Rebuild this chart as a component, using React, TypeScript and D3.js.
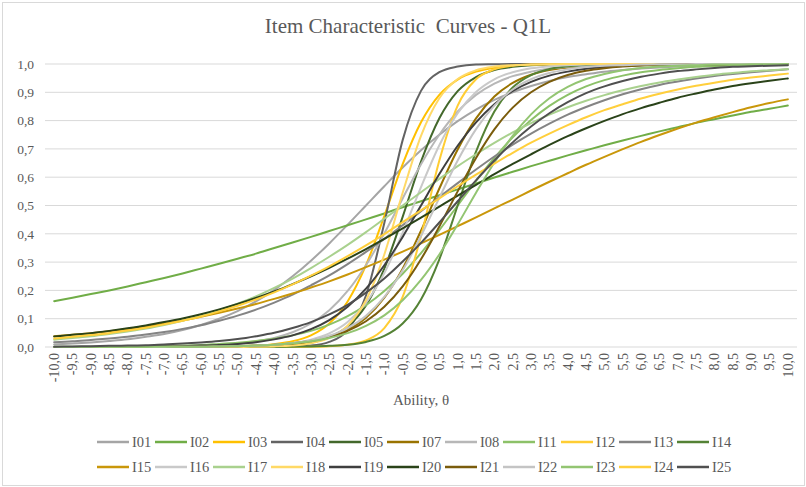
import React from 'react';
import * as d3 from 'd3';

// Ability categories (x axis)
const thetaLabels = [
  '-10,0', '-9,5', '-9,0', '-8,5', '-8,0', '-7,5', '-7,0', '-6,5', '-6,0', '-5,5',
  '-5,0', '-4,5', '-4,0', '-3,5', '-3,0', '-2,5', '-2,0', '-1,5', '-1,0', '-0,5',
  '0,0', '0,5', '1,0', '1,5', '2,0', '2,5', '3,0', '3,5', '4,0', '4,5',
  '5,0', '5,5', '6,0', '6,5', '7,0', '7,5', '8,0', '8,5', '9,0', '9,5', '10,0',
];

const yTicks = [0, 0.1, 0.2, 0.3, 0.4, 0.5, 0.6, 0.7, 0.8, 0.9, 1.0];
const yTickLabels = ['0,0', '0,1', '0,2', '0,3', '0,4', '0,5', '0,6', '0,7', '0,8', '0,9', '1,0'];

// probability of a correct answer per item
const I01 = [0.009, 0.012, 0.016, 0.021, 0.027, 0.036, 0.046, 0.060, 0.078, 0.100, 0.127, 0.161, 0.202, 0.250, 0.305, 0.366, 0.432, 0.500, 0.568, 0.634, 0.695, 0.750, 0.798, 0.839, 0.873, 0.900, 0.922, 0.940, 0.954, 0.964, 0.973, 0.979, 0.984, 0.988, 0.991, 0.993, 0.995, 0.996, 0.997, 0.998, 0.998];
const I02 = [0.162, 0.174, 0.187, 0.200, 0.214, 0.229, 0.244, 0.260, 0.277, 0.294, 0.312, 0.330, 0.350, 0.369, 0.389, 0.410, 0.430, 0.451, 0.472, 0.494, 0.515, 0.536, 0.557, 0.578, 0.599, 0.619, 0.639, 0.658, 0.677, 0.695, 0.713, 0.730, 0.746, 0.762, 0.777, 0.792, 0.805, 0.818, 0.831, 0.842, 0.853];
const I03 = [0, 0, 0, 0, 0, 0, 0, 0, 0, 0.001, 0.002, 0.005, 0.010, 0.020, 0.041, 0.083, 0.161, 0.289, 0.463, 0.646, 0.794, 0.891, 0.945, 0.973, 0.987, 0.994, 0.997, 0.999, 1, 1, 1, 1, 1, 1, 1, 1, 1, 1, 1, 1, 1];
const I04 = [0, 0, 0, 0, 0, 0, 0, 0, 0, 0, 0, 0, 0, 0.002, 0.005, 0.018, 0.060, 0.182, 0.438, 0.731, 0.905, 0.971, 0.991, 0.998, 0.999, 1, 1, 1, 1, 1, 1, 1, 1, 1, 1, 1, 1, 1, 1, 1, 1];
const I05 = [0, 0, 0, 0, 0, 0, 0, 0, 0, 0, 0, 0.001, 0.003, 0.007, 0.015, 0.034, 0.072, 0.147, 0.277, 0.460, 0.655, 0.808, 0.904, 0.954, 0.979, 0.990, 0.996, 0.998, 0.999, 1, 1, 1, 1, 1, 1, 1, 1, 1, 1, 1, 1];
const I07 = [0, 0, 0, 0, 0, 0, 0, 0, 0, 0.001, 0.002, 0.003, 0.006, 0.010, 0.019, 0.034, 0.060, 0.103, 0.174, 0.277, 0.411, 0.560, 0.698, 0.808, 0.885, 0.933, 0.962, 0.979, 0.988, 0.994, 0.996, 0.998, 0.999, 1, 1, 1, 1, 1, 1, 1, 1];
const I08 = [0, 0, 0, 0, 0.001, 0.001, 0.002, 0.003, 0.005, 0.007, 0.012, 0.020, 0.032, 0.052, 0.083, 0.130, 0.198, 0.289, 0.401, 0.525, 0.646, 0.750, 0.832, 0.891, 0.931, 0.957, 0.973, 0.984, 0.990, 0.994, 0.996, 0.998, 0.999, 0.999, 1, 1, 1, 1, 1, 1, 1];
const I11 = [0.001, 0.001, 0.001, 0.001, 0.002, 0.003, 0.004, 0.005, 0.007, 0.011, 0.015, 0.021, 0.029, 0.041, 0.057, 0.079, 0.109, 0.148, 0.198, 0.259, 0.332, 0.413, 0.500, 0.587, 0.668, 0.741, 0.802, 0.852, 0.891, 0.921, 0.943, 0.959, 0.971, 0.979, 0.985, 0.990, 0.993, 0.995, 0.996, 0.997, 0.998];
const I12 = [0, 0, 0, 0, 0, 0, 0, 0, 0, 0, 0, 0, 0, 0, 0.001, 0.003, 0.008, 0.023, 0.067, 0.177, 0.392, 0.659, 0.853, 0.946, 0.981, 0.994, 0.998, 0.999, 1, 1, 1, 1, 1, 1, 1, 1, 1, 1, 1, 1, 1];
const I13 = [0.017, 0.020, 0.025, 0.030, 0.036, 0.044, 0.053, 0.064, 0.077, 0.093, 0.111, 0.132, 0.157, 0.185, 0.218, 0.253, 0.293, 0.336, 0.382, 0.430, 0.480, 0.530, 0.579, 0.627, 0.673, 0.715, 0.754, 0.789, 0.821, 0.848, 0.872, 0.893, 0.911, 0.926, 0.938, 0.949, 0.958, 0.965, 0.971, 0.976, 0.981];
const I14 = [0, 0, 0, 0, 0, 0, 0, 0, 0, 0, 0, 0, 0, 0.001, 0.002, 0.004, 0.008, 0.018, 0.039, 0.083, 0.168, 0.310, 0.500, 0.690, 0.832, 0.917, 0.961, 0.982, 0.992, 0.996, 0.998, 0.999, 1, 1, 1, 1, 1, 1, 1, 1, 1];
const I15 = [0.038, 0.043, 0.049, 0.056, 0.064, 0.073, 0.083, 0.094, 0.107, 0.121, 0.136, 0.152, 0.170, 0.189, 0.210, 0.232, 0.256, 0.282, 0.309, 0.337, 0.366, 0.396, 0.427, 0.458, 0.490, 0.521, 0.553, 0.584, 0.614, 0.644, 0.672, 0.699, 0.725, 0.749, 0.772, 0.793, 0.812, 0.830, 0.847, 0.862, 0.875];
const I16 = [0, 0, 0, 0, 0, 0, 0, 0, 0, 0.001, 0.002, 0.004, 0.007, 0.014, 0.026, 0.048, 0.088, 0.156, 0.261, 0.404, 0.565, 0.713, 0.826, 0.901, 0.946, 0.971, 0.985, 0.992, 0.996, 0.998, 0.999, 1, 1, 1, 1, 1, 1, 1, 1, 1, 1];
const I17 = [0.026, 0.032, 0.038, 0.046, 0.055, 0.065, 0.078, 0.093, 0.110, 0.130, 0.153, 0.179, 0.209, 0.242, 0.279, 0.319, 0.361, 0.406, 0.453, 0.500, 0.547, 0.594, 0.639, 0.681, 0.721, 0.758, 0.791, 0.821, 0.847, 0.870, 0.890, 0.907, 0.922, 0.935, 0.945, 0.954, 0.962, 0.968, 0.974, 0.978, 0.982];
const I18 = [0, 0, 0, 0, 0, 0, 0, 0, 0, 0, 0, 0.001, 0.002, 0.005, 0.013, 0.032, 0.075, 0.165, 0.327, 0.545, 0.746, 0.879, 0.947, 0.978, 0.991, 0.996, 0.998, 0.999, 1, 1, 1, 1, 1, 1, 1, 1, 1, 1, 1, 1, 1];
const I19 = [0, 0, 0, 0, 0.001, 0.001, 0.002, 0.003, 0.005, 0.007, 0.011, 0.017, 0.027, 0.041, 0.063, 0.095, 0.142, 0.206, 0.289, 0.389, 0.500, 0.611, 0.711, 0.794, 0.858, 0.905, 0.937, 0.959, 0.973, 0.983, 0.989, 0.993, 0.996, 0.997, 0.998, 0.999, 0.999, 1, 1, 1, 1];
const I20 = [0.037, 0.043, 0.049, 0.057, 0.066, 0.076, 0.088, 0.101, 0.116, 0.133, 0.152, 0.173, 0.196, 0.222, 0.250, 0.280, 0.312, 0.346, 0.382, 0.419, 0.457, 0.496, 0.535, 0.573, 0.611, 0.647, 0.681, 0.714, 0.745, 0.773, 0.799, 0.823, 0.844, 0.863, 0.881, 0.896, 0.910, 0.922, 0.932, 0.941, 0.949];
const I21 = [0, 0, 0, 0, 0, 0, 0, 0.001, 0.001, 0.002, 0.003, 0.005, 0.008, 0.013, 0.022, 0.036, 0.057, 0.091, 0.142, 0.214, 0.310, 0.426, 0.550, 0.668, 0.769, 0.846, 0.900, 0.937, 0.961, 0.976, 0.985, 0.991, 0.995, 0.997, 0.998, 0.999, 0.999, 1, 1, 1, 1];
const I22 = [0, 0, 0, 0, 0, 0, 0, 0.001, 0.001, 0.002, 0.003, 0.005, 0.008, 0.014, 0.023, 0.040, 0.067, 0.110, 0.177, 0.271, 0.392, 0.527, 0.659, 0.770, 0.853, 0.910, 0.946, 0.968, 0.981, 0.989, 0.994, 0.996, 0.998, 0.999, 0.999, 1, 1, 1, 1, 1, 1];
const I23 = [0, 0, 0, 0, 0, 0, 0.001, 0.001, 0.001, 0.002, 0.003, 0.005, 0.008, 0.013, 0.020, 0.032, 0.049, 0.075, 0.112, 0.165, 0.237, 0.327, 0.433, 0.545, 0.652, 0.746, 0.822, 0.879, 0.919, 0.947, 0.965, 0.978, 0.986, 0.991, 0.994, 0.996, 0.998, 0.998, 0.999, 0.999, 1];
const I24 = [0.030, 0.036, 0.042, 0.049, 0.058, 0.068, 0.080, 0.093, 0.108, 0.126, 0.146, 0.168, 0.193, 0.221, 0.252, 0.285, 0.321, 0.359, 0.399, 0.441, 0.483, 0.525, 0.568, 0.609, 0.648, 0.686, 0.722, 0.754, 0.784, 0.812, 0.837, 0.858, 0.878, 0.895, 0.910, 0.923, 0.934, 0.944, 0.952, 0.959, 0.966];
const I25 = [0.001, 0.002, 0.003, 0.004, 0.005, 0.006, 0.009, 0.012, 0.016, 0.021, 0.028, 0.038, 0.050, 0.067, 0.088, 0.115, 0.149, 0.192, 0.242, 0.302, 0.368, 0.440, 0.515, 0.589, 0.659, 0.723, 0.779, 0.826, 0.865, 0.897, 0.921, 0.940, 0.955, 0.966, 0.975, 0.981, 0.986, 0.990, 0.992, 0.994, 0.996];

const itemNames = ['I01', 'I02', 'I03', 'I04', 'I05', 'I07', 'I08', 'I11', 'I12', 'I13', 'I14',
  'I15', 'I16', 'I17', 'I18', 'I19', 'I20', 'I21', 'I22', 'I23', 'I24', 'I25'];
const itemValues = [I01, I02, I03, I04, I05, I07, I08, I11, I12, I13, I14,
  I15, I16, I17, I18, I19, I20, I21, I22, I23, I24, I25];
const itemColors = ['#A5A5A5', '#70AD47', '#FFC000', '#636363', '#43682B', '#997300', '#B7B7B7',
  '#8CC168', '#FFCD33', '#848484', '#548235', '#C9970A', '#C9C9C9', '#A9D18E', '#FFD966',
  '#3F3F3F', '#2A4319', '#7A5C0C', '#C4C4C4', '#93C572', '#FFCF3C', '#505050'];

const W = 806;
const H = 487;
const margin = { left: 45, right: 9, top: 64, bottom: 140 };
const TEXT = '#595959';
const FONT = '"Liberation Serif", "Times New Roman", serif';

const App: React.FC = () => {
  const x = d3.scaleBand<string>()
    .domain(thetaLabels)
    .range([margin.left, W - margin.right])
    .paddingInner(0)
    .paddingOuter(0);
  const cx = (l: string) => (x(l) || 0) + x.bandwidth() / 2;

  const y = d3.scaleLinear()
    .domain([0, 1])
    .range([H - margin.bottom, margin.top]);

  const line = d3.line<number>()
    .x((_d, i) => cx(thetaLabels[i]))
    .y(d => y(d))
    .curve(d3.curveMonotoneX);

  const perRow = 11;
  const legendX0 = 97;
  const legendStep = 58;
  const legendRows = [442, 467];

  return (
    <svg width={W} height={H} style={{ position: 'absolute', left: 0, top: 0, background: '#fff' }}
      fontFamily={FONT}>
      <rect x={0} y={0} width={W} height={H} fill="#fff" />
      <rect x={2.5} y={2.5} width={W - 4} height={H - 4} fill="none" stroke="#D9D9D9" />

      <text x={408} y={33} textAnchor="middle" fontSize={21} fill={TEXT} style={{ whiteSpace: 'pre' }}>
        {'Item Characteristic  Curves - Q1L'}
      </text>

      {/* grid */}
      {yTicks.map((t, i) => (
        <g key={i}>
          <line x1={margin.left} x2={W - margin.right} y1={y(t)} y2={y(t)} stroke="#D9D9D9" strokeWidth={1} />
          <text x={34} y={y(t)} dy="0.35em" textAnchor="end" fontSize={13.5} fill={TEXT}>{yTickLabels[i]}</text>
        </g>
      ))}

      {/* x labels */}
      {thetaLabels.map(l => (
        <text key={l} transform={`translate(${cx(l)},${y(0) + 6}) rotate(-90)`} dy="0.35em"
          textAnchor="end" fontSize={14} fill={TEXT}>{l}</text>
      ))}

      <text x={421} y={405} textAnchor="middle" fontSize={15} fill={TEXT}>Ability, θ</text>

      {/* curves */}
      {itemValues.map((vals, i) => (
        <path key={itemNames[i]} d={line(vals) || ''} fill="none" stroke={itemColors[i]}
          strokeWidth={2} strokeLinejoin="round" strokeLinecap="round" />
      ))}

      {/* legend */}
      {itemNames.map((n, i) => {
        const row = Math.floor(i / perRow);
        const col = i % perRow;
        const lx = legendX0 + col * legendStep;
        const ly = legendRows[row];
        return (
          <g key={n}>
            <line x1={lx} x2={lx + 32} y1={ly} y2={ly} stroke={itemColors[i]} strokeWidth={2.5} />
            <text x={lx + 35} y={ly} dy="0.35em" fontSize={14.5} fill={TEXT}>{n}</text>
          </g>
        );
      })}
    </svg>
  );
};

export default App;
